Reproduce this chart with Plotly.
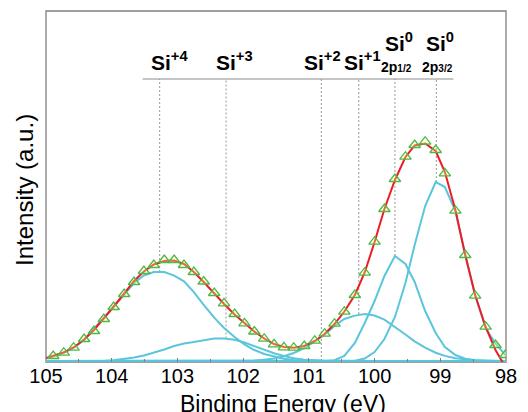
import plotly.graph_objects as go

# ---------------- data ----------------
energy = [105.00, 104.89, 104.73, 104.58, 104.42, 104.27, 104.12, 103.97, 103.81, 103.66,
          103.51, 103.36, 103.20, 103.05, 102.90, 102.75, 102.60, 102.44, 102.29, 102.13,
          101.98, 101.83, 101.68, 101.53, 101.38, 101.23, 101.07, 100.91, 100.76, 100.61,
          100.46, 100.30, 100.15, 100.00, 99.85, 99.69, 99.53, 99.39, 99.23, 99.07,
          98.93, 98.77, 98.62, 98.47, 98.31, 98.16, 98.01]

measured_energy = energy[1:]
measured = [5, 8.3, 13.3, 22, 30, 42, 54, 67, 79, 90,
            96, 101, 101, 96, 89, 79.5, 68, 57.7, 47, 37.7,
            29.5, 22.3, 16.7, 13.7, 13.3, 15, 20.3, 27.3, 37.3, 49.3,
            66, 88.3, 119.3, 152, 182, 204.3, 216, 219.3, 211, 187.7,
            150.3, 106, 65.3, 34.3, 16, 6]

envelope = [3, 5, 8.5, 13.5, 21.5, 31, 42.5, 54.5, 67.5, 80,
            89.5, 96.5, 100, 100.5, 97, 89, 79, 67.5, 57, 46.5,
            37.5, 29.5, 22.5, 17, 14, 13.2, 15, 20, 27, 37,
            49.5, 66, 88.5, 119, 152, 181, 204, 215.5, 217.5, 210,
            189, 151, 106, 66, 34, 11, -6]

si4 = [2.5, 4.5, 8.5, 13, 21, 32.5, 42.7, 54.3, 67, 78,
       85.5, 89, 89, 85.4, 79.6, 68.8, 56.2, 43.3, 33, 24,
       16.6, 11, 7, 4.5, 2.2, 1, 0.5, 0.2, 0, 0,
       0, 0, 0, 0, 0, 0, 0, 0, 0, 0,
       0, 0, 0, 0, 0, 0, 0]

si3 = [0, 0, 0, 0, 0, 0, 0, 0.8, 2, 3.6,
       5.5, 8.2, 11.5, 15, 17.5, 19, 21, 22.5, 22.5, 21.2,
       18.5, 15, 11.2, 7.7, 5, 2.8, 1.3, 0.5, 0.2, 0,
       0, 0, 0, 0, 0, 0, 0, 0, 0, 0,
       0, 0, 0, 0, 0, 0, 0]

si1 = [0, 0, 0, 0, 0, 0, 0, 0, 0, 0,
       0, 0, 0, 0, 0, 0, 0, 0, 0, 0.1,
       0.3, 0.6, 1.3, 2.6, 4.7, 8, 12.9, 19.4, 26.5, 35,
       42, 45.4, 47, 45.5, 41.3, 34.3, 26.5, 19.6, 13.3, 8.3,
       5.1, 2.7, 1.4, 0.7, 0.3, 0.1, 0]

si0_half = [0, 0, 0, 0, 0, 0, 0, 0, 0, 0,
            0, 0, 0, 0, 0, 0, 0, 0, 0, 0,
            0, 0, 0, 0, 0, 0, 0, 0, 0, 0.8,
            5, 18, 38, 60, 85, 105, 97, 79, 50, 28,
            14, 6, 2.2, 0.8, 0.3, 0.1, 0]

si0_3half = [0, 0, 0, 0, 0, 0, 0, 0, 0, 0,
             0, 0, 0, 0, 0, 0, 0, 0, 0, 0,
             0, 0, 0, 0, 0, 0, 0, 0, 0, 0,
             0, 0.3, 2.5, 9, 22, 44, 78, 116, 155, 179,
             174, 150, 106, 66, 33, 17.5, 6]

components = [si4, si3, si1, si0_half, si0_3half]

x_ticks = [105, 104, 103, 102, 101, 100, 99, 98]

peak_names = ["Si<sup>+4</sup>", "Si<sup>+3</sup>", "Si<sup>+2</sup>", "Si<sup>+1</sup>",
              "Si<sup>0</sup>", "Si<sup>0</sup>"]
peak_sub = ["", "", "", "", "2p<span style='font-size:10px'>1/2</span>",
            "2p<span style='font-size:10px'>3/2</span>"]
peak_line_energy = [103.27, 102.26, 100.81, 100.24, 99.69, 99.06]
peak_line_bottom = [89, 22.5, 0, 47, 105, 179]
label_energy = [103.12, 102.13, 100.79, 100.18, 99.63, 99.01]

# ---------------- figure ----------------
CYAN = '#5bc6db'
RED = '#ee1d23'
GREY = '#808080'
FONT = 'Arial, Liberation Sans, sans-serif'

fig = go.Figure()
for comp in components:
    fig.add_trace(go.Scatter(x=energy, y=comp, mode='lines',
                             line=dict(color=CYAN, width=2), hoverinfo='skip'))
fig.add_trace(go.Scatter(x=energy, y=envelope, mode='lines',
                         line=dict(color=RED, width=2), hoverinfo='skip'))
fig.add_trace(go.Scatter(x=measured_energy, y=measured, mode='markers',
                         marker=dict(symbol='triangle-up', size=10,
                                     color='rgba(255,255,140,0.3)',
                                     line=dict(color='#4cb848', width=1.3)),
                         hoverinfo='skip'))

LINE_TOP = 282
shapes = [dict(type='rect', xref='paper', yref='paper', x0=0, x1=1, y0=0, y1=1,
               line=dict(color=GREY, width=1.3), fillcolor='rgba(0,0,0,0)', layer='below')]
for e, b in zip(peak_line_energy, peak_line_bottom):
    shapes.append(dict(type='line', xref='x', yref='y', x0=e, x1=e, y0=b, y1=LINE_TOP,
                       line=dict(color='#999999', width=1, dash='2px,2px'), layer='below'))
shapes.append(dict(type='line', xref='x', yref='y', x0=103.53, x1=98.80,
                   y0=LINE_TOP, y1=LINE_TOP, line=dict(color='#8c8c8c', width=1)))

annotations = []
for i, (name, e) in enumerate(zip(peak_names, label_energy)):
    y = 285 if peak_sub[i] == "" else 304
    annotations.append(dict(x=e, y=y, xref='x', yref='y', text='<b>' + name + '</b>',
                            showarrow=False, xanchor='center', yanchor='bottom',
                            font=dict(family=FONT, size=21, color='black')))
    if peak_sub[i]:
        annotations.append(dict(x=e + 0.03, y=284.5, xref='x', yref='y',
                                text='<b>' + peak_sub[i] + '</b>',
                                showarrow=False, xanchor='center', yanchor='bottom',
                                font=dict(family=FONT, size=14, color='black')))

annotations.append(dict(x=0.515, y=-0.12, xref='paper', yref='paper',
                        text='Binding Energy (eV)', showarrow=False,
                        xanchor='center', yanchor='middle',
                        font=dict(family=FONT, size=23, color='black')))
annotations.append(dict(x=-0.048, y=0.49, xref='paper', yref='paper',
                        text='Intensity (a.u.)', showarrow=False, textangle=-90,
                        xanchor='center', yanchor='middle',
                        font=dict(family=FONT, size=24, color='black')))

fig.update_layout(
    width=528, height=412,
    margin=dict(l=46, r=12, t=11, b=50),
    paper_bgcolor='white', plot_bgcolor='white',
    showlegend=False,
    shapes=shapes, annotations=annotations,
    xaxis=dict(range=[105, 98], tickvals=x_ticks, ticks='inside', ticklen=4,
               tickcolor=GREY, showline=False,
               showgrid=False, zeroline=False,
               minor=dict(dtick=0.5, tick0=98, ticks='inside', ticklen=3, tickcolor=GREY,
                          showgrid=False),
               ticklabelstandoff=0,
               tickfont=dict(family=FONT, size=20, color='black')),
    yaxis=dict(range=[-1, 350], showticklabels=False, ticks='', showline=False,
               showgrid=False, zeroline=False),
)

fig.write_html("out.html",
               config={'displayModeBar': False, 'staticPlot': True},
               post_script="document.body.style.margin='0px';"
                           "document.body.style.overflow='hidden';")
